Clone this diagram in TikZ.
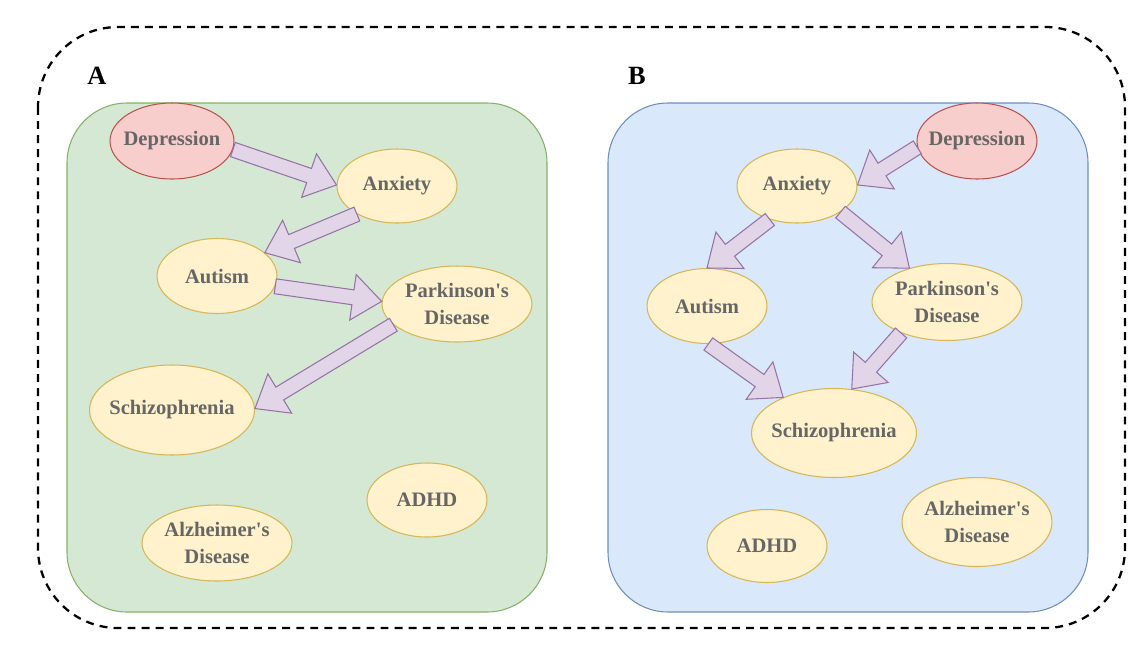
\documentclass[tikz,border=0pt]{standalone}
\usepackage{fontspec}
\setmainfont{Liberation Serif}
\usetikzlibrary{calc,shapes.geometric}
\definecolor{greenfill}{HTML}{D5E8D4}
\definecolor{greenline}{HTML}{82B366}
\definecolor{bluefill}{HTML}{DAE8FC}
\definecolor{blueline}{HTML}{6C8EBF}
\definecolor{redfill}{HTML}{F8CECC}
\definecolor{redline}{HTML}{B85450}
\definecolor{yellowfill}{HTML}{FFF2CC}
\definecolor{yellowline}{HTML}{D6B656}
\definecolor{purplefill}{HTML}{E1D5E7}
\definecolor{purpleline}{HTML}{9673A6}
\definecolor{labelgrey}{HTML}{666666}
\newcommand\flexarrow[2]{%
  \coordinate (neck) at ($(#2)!0.58cm!(#1)$);
  \draw[blockarrow] ($(#1)!0.15cm!90:(#2)$) -- ($(neck)!0.15cm!90:(#2)$)
    -- ($(neck)!0.46cm!90:(#2)$) -- (#2) -- ($(neck)!0.46cm!-90:(#2)$)
    -- ($(neck)!0.15cm!-90:(#2)$) -- ($(#1)!0.15cm!-90:(#2)$) -- cycle;
}
\begin{document}
\begin{tikzpicture}[x=0.02cm, y=-0.02cm,
    disorder/.style={ellipse, draw=yellowline, fill=yellowfill, line width=0.6pt,
      inner sep=-12pt, text=labelgrey, align=center,
      font=\fontsize{11.7}{15.4}\selectfont\bfseries},
    primary/.style={disorder, draw=redline, fill=redfill},
    panel/.style={rounded corners=1.2cm, line width=0.6pt},
    blockarrow/.style={draw=purpleline, fill=purplefill, line width=0.6pt},
    panellabel/.style={font=\fontsize{15}{18}\selectfont\bfseries}]
    \useasboundingbox (0,0) rectangle (1147,650);
    \draw[dashed, line width=1.3pt, dash pattern=on 4.5pt off 3.5pt, rounded corners=1.6cm]
      (38,27) rectangle (1125,628);
    \draw[panel, draw=greenline, fill=greenfill] (67,103) rectangle (547,612);
    \draw[panel, draw=blueline, fill=bluefill] (608,103) rectangle (1088,612);
    \node[panellabel] (labA) at (97,76) {A};
    \node[panellabel] (labB) at (637,76) {B};

    \node[primary, minimum width=2.48cm, minimum height=1.52cm] (depA) at (172,141) {Depression};
    \node[disorder, minimum width=2.4cm, minimum height=1.48cm] (anxA) at (397,186) {Anxiety};
    \node[disorder, minimum width=2.4cm, minimum height=1.5cm] (autA) at (217,276) {Autism};
    \node[disorder, minimum width=3cm, minimum height=1.52cm] (parA) at (457,304) {Parkinson\textquotesingle s\\Disease};
    \node[disorder, minimum width=3.3cm, minimum height=1.8cm] (schA) at (172,410) {Schizophrenia};
    \node[disorder, minimum width=2.4cm, minimum height=1.48cm] (adhA) at (427,500) {ADHD};
    \node[disorder, minimum width=3cm, minimum height=1.52cm] (alzA) at (217,543) {Alzheimer\textquotesingle s\\Disease};

    \node[primary, minimum width=2.4cm, minimum height=1.52cm] (depB) at (977,141) {Depression};
    \node[disorder, minimum width=2.4cm, minimum height=1.48cm] (anxB) at (797,186) {Anxiety};
    \node[disorder, minimum width=2.4cm, minimum height=1.5cm] (autB) at (707,306) {Autism};
    \node[disorder, minimum width=3cm, minimum height=1.54cm] (parB) at (947,302) {Parkinson\textquotesingle s\\Disease};
    \node[disorder, minimum width=3.3cm, minimum height=1.78cm] (schB) at (834,433) {Schizophrenia};
    \node[disorder, minimum width=2.4cm, minimum height=1.46cm] (adhB) at (767,546) {ADHD};
    \node[disorder, minimum width=3cm, minimum height=1.78cm] (alzB) at (977,522) {Alzheimer\textquotesingle s\\Disease};

    \flexarrow{depA.-8}{anxA.179}
    \flexarrow{anxA.215}{autA.26}
    \flexarrow{autA.-10}{parA.178}
    \flexarrow{parA.198}{schA.1}

    \flexarrow{depB.186}{anxB.1}
    \flexarrow{anxB.231}{autB.90}
    \flexarrow{anxB.-31}{parB.138}
    \flexarrow{autB.-88}{schB.145}
    \flexarrow{parB.214}{schB.68}
\end{tikzpicture}
\end{document}
